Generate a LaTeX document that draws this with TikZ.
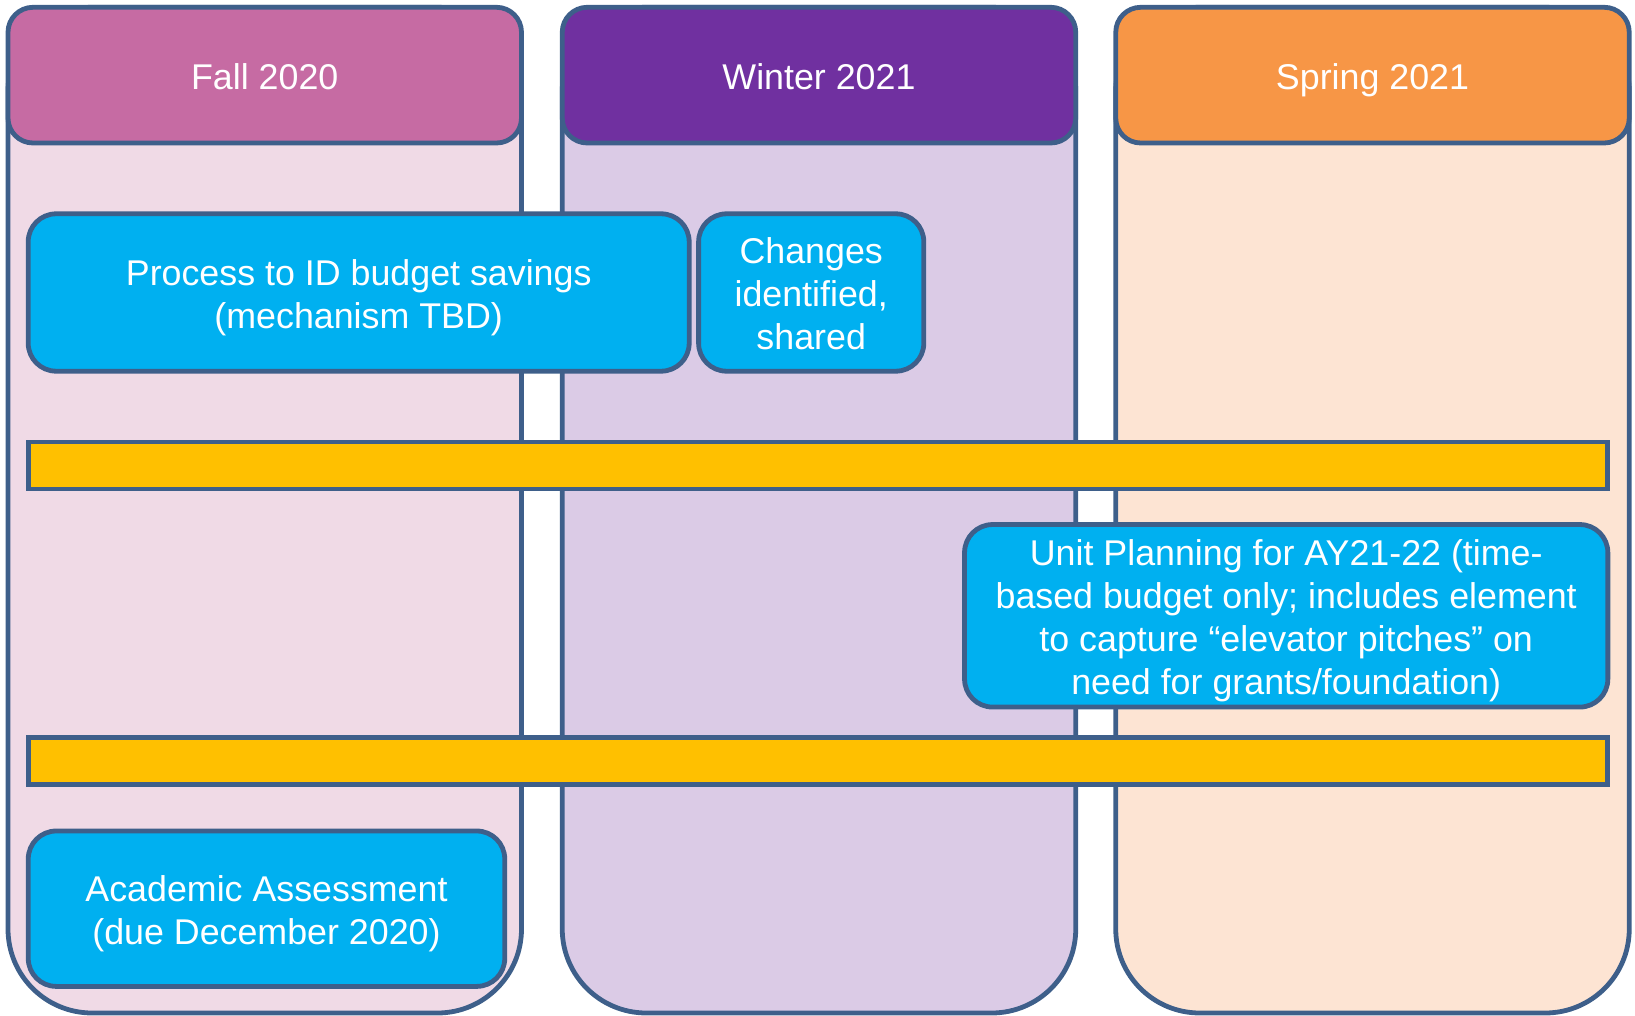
\documentclass[tikz,border=0pt]{standalone}
\usepackage{fontspec}
\setmainfont{Liberation Sans}
\definecolor{bord}{RGB}{62,95,138}
\definecolor{fallhd}{RGB}{198,107,163}
\definecolor{fallbg}{RGB}{240,218,230}
\definecolor{winthd}{RGB}{112,48,160}
\definecolor{wintbg}{RGB}{219,203,230}
\definecolor{sprhd}{RGB}{247,150,70}
\definecolor{sprbg}{RGB}{253,228,211}
\definecolor{boxblue}{RGB}{0,176,240}
\definecolor{baryellow}{RGB}{255,192,0}
\newcommand\tstr{\rule{0pt}{1.005em}}
\newcommand\bstr{\rule[-0.212em]{0pt}{0.212em}}
\begin{document}
\begin{tikzpicture}[x=0.5pt,y=-0.5pt,
  txt/.style={text=white, font=\fontsize{17.9}{21.4}\selectfont, align=center},
  col/.style={draw=bord, line width=2.4pt, rounded corners=42pt, inner sep=0pt,
    minimum width=256.75pt, minimum height=502.85pt},
  hdr/.style={draw=bord, line width=2.4pt, rounded corners=12.5pt, inner sep=0pt,
    minimum width=256.75pt, minimum height=67.85pt, txt},
  bluebox/.style={draw=bord, line width=2.4pt, fill=boxblue, rounded corners=14pt,
    inner sep=0pt, txt},
  bar/.style={draw=bord, line width=2.4pt, fill=baryellow, inner sep=0pt,
    minimum width=789.8pt, minimum height=23.5pt}]
\useasboundingbox (0,0) rectangle (1635,1016);
% columns
\node[col, fill=fallbg] (c1) at (264.75,510.15) {};
\node[col, fill=wintbg] (c2) at (819,510.15) {};
\node[col, fill=sprbg] (c3) at (1372.5,510.15) {};
% headers
\node[hdr, fill=fallhd] (h1) at (264.75,75.15) {\tstr Fall 2020\bstr};
\node[hdr, fill=winthd] (h2) at (819,75.15) {\tstr Winter 2021\bstr};
\node[hdr, fill=sprhd] (h3) at (1372.5,75.15) {\tstr Spring 2021\bstr};
% yellow bars
\node[bar] (y1) at (818,465.5) {};
\node[bar] (y2) at (818,761.2) {};
% blue boxes
\node[bluebox, minimum width=330.5pt, minimum height=78.7pt] (proc) at (358.7,292.5)
  {\tstr Process to ID budget savings\\(mechanism TBD)\bstr};
\node[bluebox, minimum width=112.6pt, minimum height=78.7pt] (chg) at (811.2,292.5)
  {\tstr Changes\\identified,\\shared\bstr};
\node[bluebox, minimum width=321.65pt, minimum height=91.25pt] (unit) at (1286.2,615.8)
  {\tstr Unit Planning for AY21-22 (time-\\based budget only; includes element\\to capture “elevator pitches” on\\need for grants/foundation)\bstr};
\node[bluebox, minimum width=238.25pt, minimum height=77.7pt] (acad) at (266.5,908.7)
  {\tstr Academic Assessment\\(due December 2020)\bstr};
\end{tikzpicture}
\end{document}
